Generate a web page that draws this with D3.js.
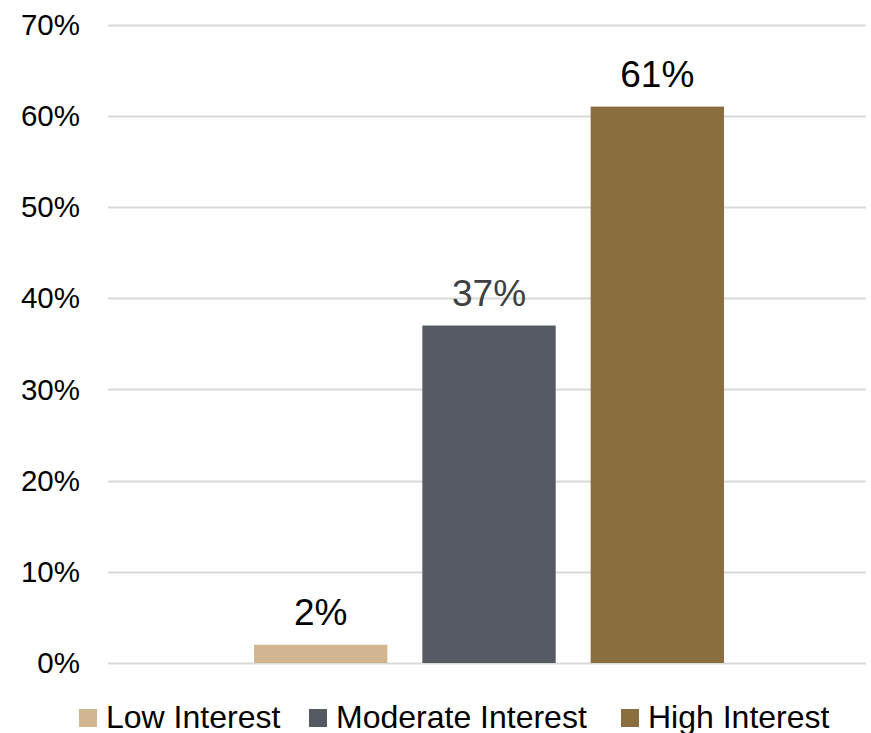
<!DOCTYPE html>
<html>
<head>
<meta charset="utf-8">
<script src="https://cdn.jsdelivr.net/npm/d3@7"></script>
<style>
  html, body { margin: 0; padding: 0; background: #fff; }
  svg { display: block; font-family: "Liberation Sans", Arial, sans-serif; }
</style>
</head>
<body>
<svg id="chart" width="871" height="733"></svg>
<script>
// Share of respondents by interest level
const series = ["Low Interest", "Moderate Interest", "High Interest"];
const values = [2, 37, 61];
const colors = ["#D0B78F", "#565A62", "#8B6E3D"];
const labelColors = ["#000000", "#404040", "#000000"];
const yTicks = [0, 10, 20, 30, 40, 50, 60, 70];

const svg = d3.select("#chart");
const margin = { left: 108, right: 5, top: 24.5 };
const width = 871;
const plotBottom = 663;

const y = d3.scaleLinear().domain([0, 70]).range([plotBottom, margin.top]);

// One category holding three series side by side
const x0 = d3.scaleBand().domain(["all"]).range([margin.left, width - margin.right])
  .paddingInner(0.38).paddingOuter(0).align(0.507);
const x1 = d3.scaleBand().domain(series).range([0, x0.bandwidth()]).paddingInner(0.2077).paddingOuter(0);

// Gridlines
svg.append("g")
  .selectAll("line")
  .data(yTicks)
  .join("line")
  .attr("x1", margin.left)
  .attr("x2", width - margin.right)
  .attr("y1", d => Math.round(y(d)) + 0.5)
  .attr("y2", d => Math.round(y(d)) + 0.5)
  .attr("stroke", "#D9D9D9")
  .attr("stroke-width", 2);

// Y axis labels
const yAxis = d3.axisLeft(y).tickValues(yTicks).tickFormat(d => d + "%").tickSize(0).tickPadding(0);
const yg = svg.append("g").attr("transform", "translate(80,0)").call(yAxis);
yg.select(".domain").remove();
yg.selectAll("text")
  .attr("font-size", 29.5)
  .attr("fill", "#000")
  .attr("font-family", "'Liberation Sans', Arial, sans-serif")
  .attr("dy", "0.33em");

// Bars
const g = svg.append("g").attr("transform", `translate(${x0("all")},0)`);
g.selectAll("rect")
  .data(series)
  .join("rect")
  .attr("x", d => x1(d))
  .attr("width", x1.bandwidth())
  .attr("y", (d, i) => y(values[i]))
  .attr("height", (d, i) => y(0) - y(values[i]))
  .attr("fill", (d, i) => colors[i]);

// Value labels
g.selectAll("text.val")
  .data(series)
  .join("text")
  .attr("class", "val")
  .attr("x", d => x1(d) + x1.bandwidth() / 2)
  .attr("y", (d, i) => y(values[i]) - 20)
  .attr("text-anchor", "middle")
  .attr("font-size", 37)
  .attr("fill", (d, i) => labelColors[i])
  .text((d, i) => values[i] + "%");

// Legend
const legendX = [79, 309, 621];
const lg = svg.append("g");
const items = lg.selectAll("g")
  .data(series)
  .join("g")
  .attr("transform", (d, i) => `translate(${legendX[i]},709)`);
items.append("rect")
  .attr("width", 18)
  .attr("height", 18)
  .attr("fill", (d, i) => colors[i]);
items.append("text")
  .attr("x", 27)
  .attr("y", 19)
  .attr("font-size", 32)
  .attr("fill", "#000")
  .text(d => d);
</script>
</body>
</html>
